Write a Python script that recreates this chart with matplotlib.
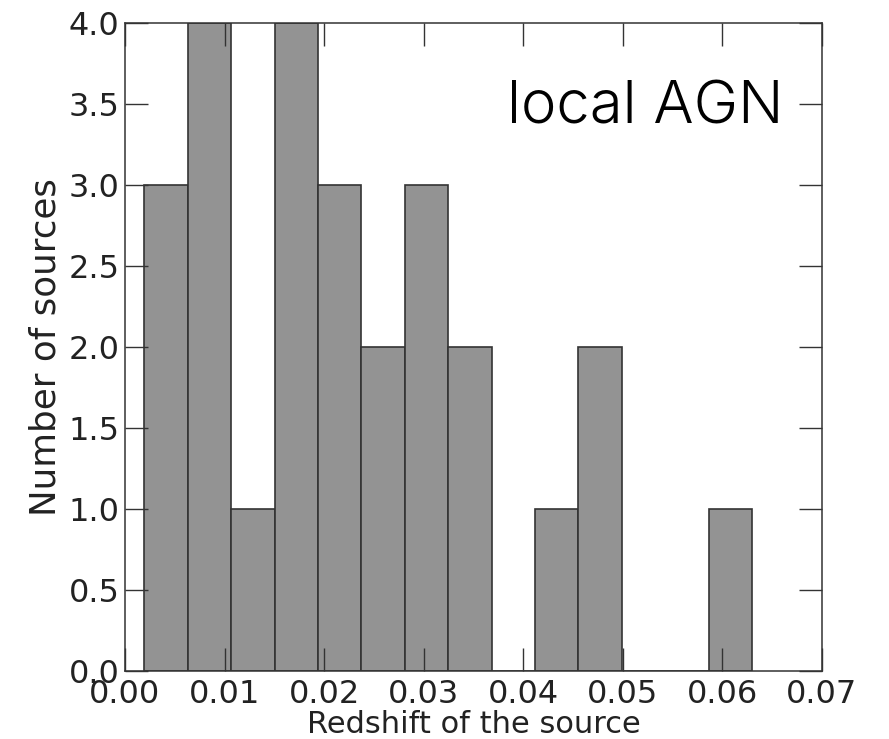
import numpy as np
import matplotlib
matplotlib.use('Agg')
import matplotlib.pyplot as plt

# histogram of redshifts
bin_start = 0.00194
bin_width = 0.00436
counts = [3, 4, 1, 4, 3, 2, 3, 2, 0, 1, 2, 0, 0, 1]

edges = bin_start + bin_width * np.arange(len(counts) + 1)
centers = (edges[:-1] + edges[1:]) / 2

fig = plt.figure(figsize=(8.89, 7.39), dpi=100)
ax = fig.add_axes([0.1406, 0.092, 0.784, 0.877])

ax.hist(centers, bins=edges, weights=counts, color='#939393',
        edgecolor='#333333', linewidth=1.2)

ax.set_xlim(0, 0.07)
ax.set_ylim(0, 4.0)
ax.set_xticks(np.arange(0, 0.071, 0.01))
ax.set_yticks(np.arange(0, 4.01, 0.5))
ax.xaxis.set_major_formatter(matplotlib.ticker.FormatStrFormatter('%.2f'))
ax.yaxis.set_major_formatter(matplotlib.ticker.FormatStrFormatter('%.1f'))

ax.tick_params(direction='in', top=True, right=True, length=16.5, width=1.0,
               labelsize=23, colors='#333333', labelcolor='#222222')
ax.tick_params(axis='x', pad=6)
ax.tick_params(axis='y', pad=4)
for s in ax.spines.values():
    s.set_linewidth(1.1)
    s.set_color('#333333')

ax.set_xlabel('Redshift of the source', fontsize=22, color='#222222', labelpad=0)
ax.set_ylabel('Number of sources', fontsize=25.7, color='#222222', labelpad=4)

ax.text(0.945, 0.845, 'local AGN', transform=ax.transAxes, ha='right',
        va='baseline', fontsize=43, family='Inter', fontweight=300,
        color='black')

fig.savefig('out.png', dpi=100)
